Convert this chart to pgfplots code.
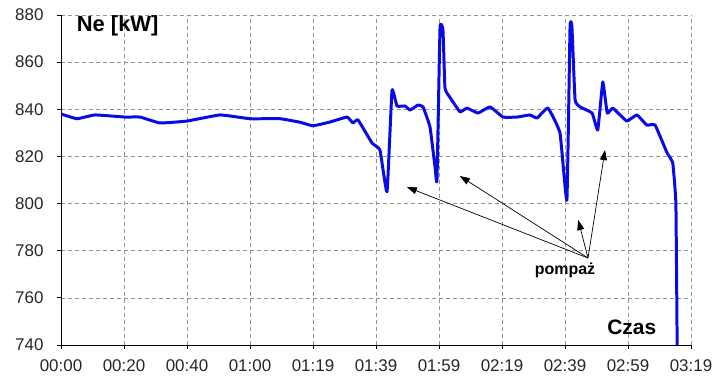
\documentclass[border=0pt]{standalone}
\usepackage{pgfplots}
\pgfplotsset{compat=1.18}
\usepackage{fontspec}
\setmainfont{Liberation Sans}
\usetikzlibrary{arrows.meta}
\definecolor{linecol}{RGB}{10,10,230}
\begin{document}
\begin{tikzpicture}[x=1bp,y=1bp]
\path[use as bounding box] (-61bp,-36bp) rectangle (654bp,345bp);
\begin{axis}[
  at={(0,0)}, anchor=south west,
  scale only axis, width=630bp, height=330bp,
  xmin=0, xmax=10, ymin=740, ymax=880,
  xtick={0,1,...,10},
  xticklabels={00:00,00:20,00:40,01:00,01:19,01:39,01:59,02:19,02:39,02:59,03:19},
  ytick={740,760,...,880},
  axis x line=bottom, axis y line=left,
  axis line style={-, black, line width=1pt},
  tick align=outside, major tick length=4bp,
  tick style={black, line width=0.8pt},
  grid=major,
  major grid style={dashed, dash pattern=on 4bp off 3bp, gray!85, line width=0.7pt},
  /pgf/number format/assume math mode=true,
  /pgf/number format/1000 sep={},
  ticklabel style={font=\fontsize{17}{17}\selectfont, text=black!85},
  xticklabel style={yshift=-7bp},
  yticklabel style={xshift=-10bp},
  clip=true,
]
\addplot[linecol, line width=3pt, smooth, tension=0.2, line join=round] coordinates {
(0,838) (0.254,836) (0.54,837.6) (1.016,836.7) (1.254,836.7) (1.571,834.2)
(2.0,835) (2.524,837.6) (3.0,836) (3.476,836) (3.794,834.5) (4.0,833)
(4.27,834.6) (4.54,836.7) (4.635,834.2) (4.714,835.5) (4.937,825.7) (5.063,822.7)
(5.175,805) (5.254,848) (5.333,841.4) (5.46,841.4) (5.54,839.7) (5.667,841.8)
(5.746,841) (5.857,832.5) (5.937,815.5) (5.968,810) (6.016,874.5) (6.063,873.6)
(6.095,849) (6.175,845) (6.333,838.9) (6.444,840.5) (6.619,838.4) (6.81,841)
(7.016,836.7) (7.238,836.7) (7.444,837.6) (7.556,836.3) (7.73,840.5) (7.92,830)
(8.03,801.5) (8.08,875) (8.11,875) (8.16,844) (8.24,841) (8.43,838.4)
(8.52,831.2) (8.6,851.6) (8.67,838.4) (8.76,840.5) (8.98,835) (9.14,837.6)
(9.30,833.3) (9.43,833.3) (9.62,821.5) (9.71,817.2) (9.76,800) (9.78,740)
};
\draw[-{Triangle[length=10bp,width=7bp]}, line width=0.7pt] (axis cs:8.365,776.9) -- (axis cs:5.49,807);
\draw[-{Triangle[length=10bp,width=7bp]}, line width=0.7pt] (axis cs:8.365,776.9) -- (axis cs:6.33,811.7);
\draw[-{Triangle[length=10bp,width=7bp]}, line width=0.7pt] (axis cs:8.365,776.9) -- (axis cs:8.21,793);
\draw[-{Triangle[length=10bp,width=7bp]}, line width=0.7pt] (axis cs:8.365,776.9) -- (axis cs:8.635,822.7);
\node[font=\fontsize{16}{16}\selectfont\bfseries] at (axis cs:8.0,771.8) {pompaż};
\node[font=\fontsize{21}{21}\selectfont\bfseries] at (axis cs:9.06,747.6) {Czas};
\node[font=\fontsize{22}{22}\selectfont\bfseries] at (axis cs:0.9,875.5) {Ne [kW]};
\end{axis}
\end{tikzpicture}
\end{document}
